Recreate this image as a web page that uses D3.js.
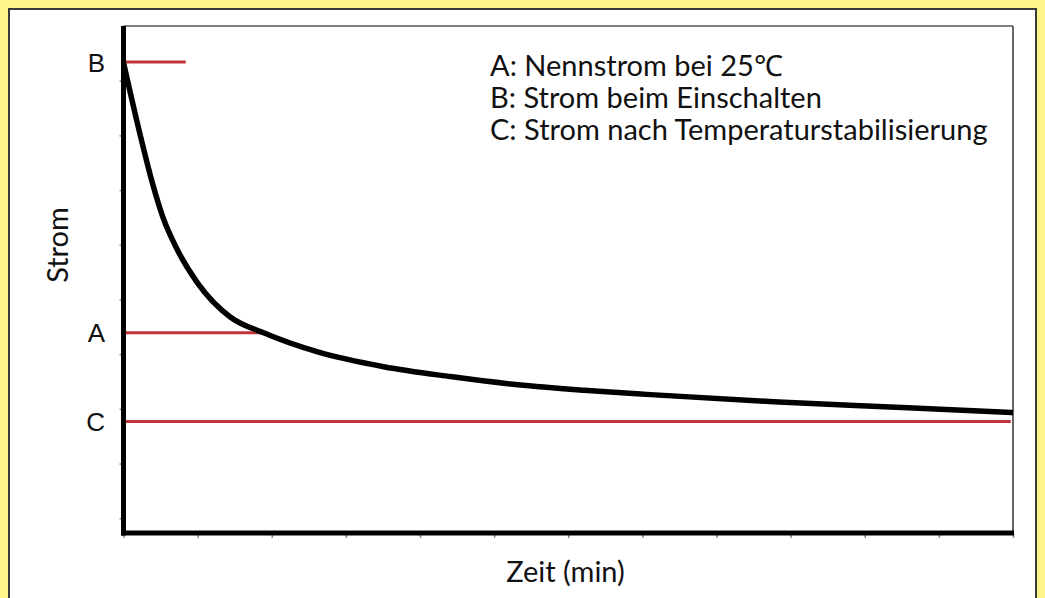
<!DOCTYPE html>
<html>
<head>
<meta charset="utf-8">
<script src="https://cdn.jsdelivr.net/npm/d3@7"></script>
<style>
  html, body { margin: 0; padding: 0; background: #fff48c; }
  svg { display: block; }
</style>
</head>
<body>
<script>
// ---- data ----
const timeMin = [0, 0.20, 0.39, 0.53, 0.73, 1.00, 1.44, 1.89, 2.62, 3.51, 4.41, 5.32, 6.21, 7.11, 8.77, 10.58, 12.0];
const current = [8.33, 7.15, 6.13, 5.51, 4.90, 4.30, 3.68, 3.39, 3.04, 2.77, 2.59, 2.44, 2.34, 2.26, 2.13, 2.02, 1.93];
const levelNames = ["B", "A", "C"];
const levelValues = [8.34, 3.39, 1.77];
const levelEnds = [0.84, 1.89, 11.97];
const legendLines = ["A: Nennstrom bei 25\u2103", "B: Strom beim Einschalten", "C: Strom nach Temperaturstabilisierung"];
const xTickValues = [0, 1, 2, 3, 4, 5, 6, 7, 8, 9, 10, 11, 12];
const yTickValues = [0, 1, 2, 3, 4, 5, 6, 7, 8];
const xDomain = [0, 12];
const yDomain = [-0.27, 9];
const xTitle = "Zeit (min)";
const yTitle = "Strom";

// ---- layout ----
const W = 1045, H = 598;
const plot = { left: 123.5, right: 1013, top: 26, bottom: 533 };

const svg = d3.select("body").append("svg").attr("width", W).attr("height", H);
svg.append("rect").attr("width", W).attr("height", H).attr("fill", "#fff48c");
svg.append("rect").attr("x", 9).attr("y", 9).attr("width", 1027).attr("height", 610)
  .attr("fill", "#ffffff").attr("stroke", "#3a3a3a").attr("stroke-width", 2);

const x = d3.scaleLinear().domain(xDomain).range([plot.left, plot.right]);
const y = d3.scaleLinear().domain(yDomain).range([plot.bottom, plot.top]);

const font = "Lato, 'Open Sans', sans-serif";

// frame top / right (thin gray)
svg.append("line").attr("x1", plot.left).attr("x2", plot.right).attr("y1", plot.top).attr("y2", plot.top)
  .attr("stroke", "#555").attr("stroke-width", 1.5);
svg.append("line").attr("x1", plot.right).attr("x2", plot.right).attr("y1", plot.top).attr("y2", plot.bottom)
  .attr("stroke", "#666").attr("stroke-width", 2);

// axes
const yAxis = d3.axisLeft(y).tickValues(yTickValues).tickSize(4).tickSizeOuter(0).tickFormat("");
const gy = svg.append("g").attr("transform", `translate(${plot.left},0)`).call(yAxis);
gy.select(".domain").remove();
gy.selectAll(".tick line").attr("stroke", "#888").attr("stroke-width", 1.5);

const xAxis = d3.axisBottom(x).tickValues(xTickValues).tickSize(5).tickSizeOuter(0).tickFormat("");
const gx = svg.append("g").attr("transform", `translate(0,${plot.bottom})`).call(xAxis);
gx.select(".domain").remove();
gx.selectAll(".tick line").attr("stroke", "#888").attr("stroke-width", 1.5);

// red reference levels
svg.append("g").selectAll("line").data(levelValues).join("line")
  .attr("x1", x(0)).attr("x2", (d, i) => x(levelEnds[i]))
  .attr("y1", d => y(d)).attr("y2", d => y(d))
  .attr("stroke", "#c4333a").attr("stroke-width", 3);

svg.append("g").selectAll("text").data(levelValues).join("text")
  .attr("x", 105).attr("y", d => y(d) + 9.5)
  .attr("text-anchor", "end")
  .attr("font-family", "'Liberation Sans', Arial, sans-serif").attr("font-size", 26)
  .attr("fill", "#111")
  .text((d, i) => levelNames[i]);

// curve
const pts = timeMin.map((t, i) => [t, current[i]]);
svg.append("path").datum(pts)
  .attr("fill", "none").attr("stroke", "#000").attr("stroke-width", 5.5)
  .attr("stroke-linejoin", "round")
  .attr("d", d3.line().x(d => x(d[0])).y(d => y(d[1])).curve(d3.curveMonotoneX));

// thick axis lines
svg.append("line").attr("x1", plot.left).attr("x2", plot.left).attr("y1", plot.top).attr("y2", plot.bottom + 2.5)
  .attr("stroke", "#000").attr("stroke-width", 5);
svg.append("line").attr("x1", plot.left - 2.5).attr("x2", plot.right + 1).attr("y1", plot.bottom).attr("y2", plot.bottom)
  .attr("stroke", "#000").attr("stroke-width", 5);

// legend text
svg.append("g").selectAll("text").data(legendLines).join("text")
  .attr("x", 490).attr("y", (d, i) => 76 + i * 32)
  .attr("font-family", font).attr("font-size", 29)
  .attr("fill", "#111")
  .text(d => d);

// axis titles
svg.append("text").attr("x", 565.5).attr("y", 582).attr("text-anchor", "middle")
  .attr("font-family", font).attr("font-size", 29).attr("fill", "#111").text(xTitle);
svg.append("text").attr("transform", "translate(68,245) rotate(-90)").attr("text-anchor", "middle")
  .attr("font-family", font).attr("font-size", 29).attr("fill", "#111").text(yTitle);
</script>
</body>
</html>
